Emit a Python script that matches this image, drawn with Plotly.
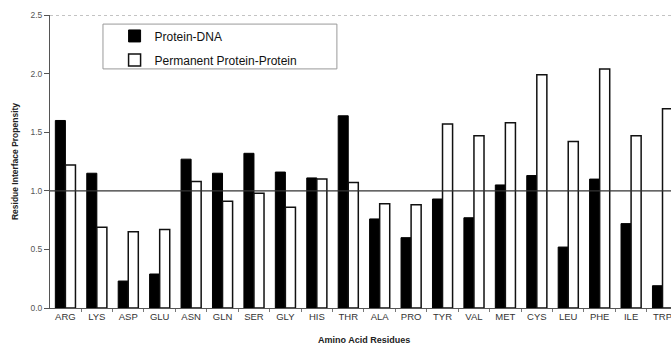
import plotly.graph_objects as go

residues = ["ARG", "LYS", "ASP", "GLU", "ASN", "GLN", "SER", "GLY", "HIS", "THR",
            "ALA", "PRO", "TYR", "VAL", "MET", "CYS", "LEU", "PHE", "ILE", "TRP"]
protein_dna = [1.60, 1.15, 0.23, 0.29, 1.27, 1.15, 1.32, 1.16, 1.11, 1.64,
               0.76, 0.60, 0.93, 0.77, 1.05, 1.13, 0.52, 1.10, 0.72, 0.19]
protein_protein = [1.22, 0.69, 0.65, 0.67, 1.08, 0.91, 0.98, 0.86, 1.10, 1.07,
                   0.89, 0.88, 1.57, 1.47, 1.58, 1.99, 1.42, 2.04, 1.47, 1.70]
y_ticks = [0.0, 0.5, 1.0, 1.5, 2.0, 2.5]

FONT = "Liberation Sans, Arial, sans-serif"

fig = go.Figure()
fig.add_trace(go.Bar(x=residues, y=protein_dna, name="Protein-DNA",
                     marker=dict(color="black", line=dict(color="black", width=1)),
                     legendgroup="a"))
fig.add_trace(go.Bar(x=residues, y=protein_protein, name="Permanent Protein-Protein",
                     marker=dict(color="white", line=dict(color="#111", width=1.5)),
                     legendgroup="b"))

fig.update_layout(
    width=671, height=345,
    margin=dict(l=50, r=0, t=15, b=37),
    plot_bgcolor="white", paper_bgcolor="white",
    barmode="group", bargap=0.36, bargroupgap=0,
    font=dict(family=FONT, color="#333"),
    showlegend=True,
    legend=dict(x=0.104, y=0.978, xanchor="left", yanchor="top",
                bgcolor="rgba(0,0,0,0)", borderwidth=0,
                font=dict(size=12, color="#111"), tracegroupgap=5,
                traceorder="grouped"),
    xaxis=dict(type="category", range=[-0.49, 19.27],
               showline=True, linecolor="#555", linewidth=1,
               ticks="outside", tickson="boundaries", ticklen=3, tickcolor="#777",
               tickfont=dict(size=9.5, color="#333"), showgrid=False),
    yaxis=dict(range=[0, 2.5], tickvals=y_ticks, tickformat=".1f",
               showline=True, linecolor="#555", linewidth=1,
               ticks="outside", ticklen=5, tickcolor="#555",
               tickfont=dict(size=8.5, color="#555"), showgrid=False,
               zeroline=False,
               title=dict(text="<b>Residue Interface Propensity</b>",
                          font=dict(size=8.5, color="#222"), standoff=10)),
    shapes=[
        dict(type="line", xref="paper", yref="y", x0=0, x1=1, y0=1.0, y1=1.0,
             line=dict(color="#333", width=1.2), layer="above"),
        dict(type="line", xref="paper", yref="y", x0=0, x1=1, y0=2.5, y1=2.5,
             line=dict(color="#888", width=1, dash="dot"), layer="above"),
        dict(type="rect", xref="paper", yref="paper", x0=0.0853, x1=0.462,
             y0=0.816, y1=0.969, line=dict(color="#999", width=1),
             fillcolor="rgba(0,0,0,0)", layer="above"),
    ],
    annotations=[
        dict(text="<b>Amino Acid Residues</b>", xref="paper", yref="paper",
             x=(364 - 50) / 621, y=-0.11, xanchor="center", yanchor="middle",
             showarrow=False, font=dict(size=9, color="#222")),
    ],
)

fig.write_html("out.html")
